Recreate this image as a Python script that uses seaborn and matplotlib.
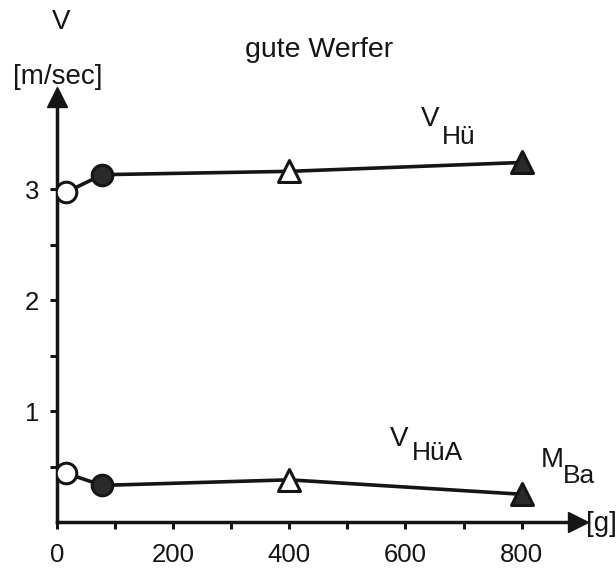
import matplotlib
matplotlib.use("Agg")
import matplotlib.pyplot as plt
import seaborn as sns
import pandas as pd

# ---- data ----
mass_g = [15, 78, 400, 800]
v_hue = [2.97, 3.13, 3.16, 3.24]
v_huea = [0.44, 0.33, 0.38, 0.25]
marker_kind = ["open circle", "filled circle", "open triangle", "filled triangle"]
x_ticks = [0, 200, 400, 600, 800]
y_ticks = [1, 2, 3]

sns.set_style("ticks")
plt.rcParams["font.family"] = ["Liberation Sans", "DejaVu Sans"]

W, H = 616, 570
fig = plt.figure(figsize=(W / 100, H / 100), dpi=100)
ax = fig.add_axes([57 / W, 1 - 522 / H, (578 - 57) / W, (522 - 97) / H])

ink = "#151515"
df_all = []
for name, vals in [("VHü", v_hue), ("VHüA", v_huea)]:
    df_all.append(pd.DataFrame({"m": mass_g, "v": vals, "series": name, "kind": marker_kind}))
df = pd.concat(df_all, ignore_index=True)

sns.lineplot(data=df, x="m", y="v", units="series", estimator=None, color=ink,
             lw=2.6, ax=ax, sort=False, zorder=2)

style = {
    "open circle": dict(marker="o", s=220, facecolor="white"),
    "filled circle": dict(marker="o", s=220, facecolor="#2a2a2a"),
    "open triangle": dict(marker="^", s=250, facecolor="white"),
    "filled triangle": dict(marker="^", s=250, facecolor="#2a2a2a"),
}
for kind, st in style.items():
    sub = df[df["kind"] == kind]
    sns.scatterplot(data=sub, x="m", y="v", marker=st["marker"], s=st["s"],
                    facecolor=st["facecolor"], edgecolor=ink, linewidth=2.2,
                    ax=ax, zorder=3, legend=False)

ax.set_xlim(0, 897)
ax.set_ylim(0, 3.83)
ax.set_xlabel("")
ax.set_ylabel("")
ax.set_xticks(x_ticks)
ax.set_xticks([100, 300, 500, 700], minor=True)
ax.set_yticks(y_ticks)
ax.set_yticks([0.5, 1.5, 2.5], minor=True)
ax.set_xticklabels([str(t) for t in x_ticks])
ax.set_yticklabels([str(t) for t in y_ticks])

for s in ["top", "right"]:
    ax.spines[s].set_visible(False)
for s in ["left", "bottom"]:
    ax.spines[s].set_linewidth(2.5)
    ax.spines[s].set_color(ink)

ax.tick_params(axis="x", which="both", direction="out", length=5, width=2.2,
               color=ink, labelsize=18.5, pad=10, labelcolor=ink)
ax.tick_params(axis="y", which="both", direction="out", length=5, width=2.2,
               color=ink, labelsize=18.5, pad=8, labelcolor=ink)

# axis arrow heads
ax.plot(1, 0, marker=">", markersize=15, color=ink, transform=ax.get_yaxis_transform(),
        clip_on=False, zorder=5)
ax.plot(0, 1, marker="^", markersize=15, color=ink, transform=ax.get_xaxis_transform(),
        clip_on=False, zorder=5)

def ftext(px, py, s, size=20, **kw):
    fig.text(px / W, 1 - py / H, s, ha="center", va="center", fontsize=size, color=ink, **kw)

ftext(61, 22, "V")
ftext(58, 77, "[m/sec]")
ftext(319, 50, "gute Werfer", size=20.5)
ftext(430, 119, "V")
ftext(459, 137, "Hü", size=19)
ftext(399, 439, "V")
ftext(437, 453, "HüA", size=19)
ftext(552, 460, "M")
ftext(579, 476, "Ba", size=19)
ftext(601, 524, "[g]")

fig.savefig("out.png", dpi=100, facecolor="white")
